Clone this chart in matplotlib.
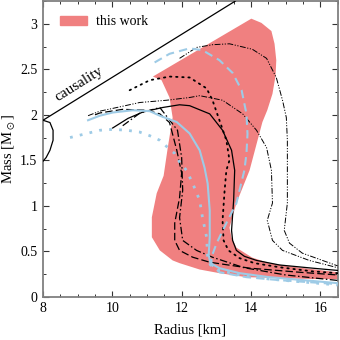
import matplotlib
matplotlib.use("Agg")
import matplotlib.pyplot as plt
from matplotlib.patches import Patch

plt.rcParams['font.family'] = 'serif'
plt.rcParams['font.serif'] = ['Liberation Serif', 'DejaVu Serif']
plt.rcParams['mathtext.fontset'] = 'stix'

# ---- data (Radius [km], Mass [Msun]) ----
band_R = [11.17, 14.01, 14.30, 14.59, 14.68, 14.73, 14.71, 14.62, 14.47, 14.33, 14.19, 13.96,
          13.58, 13.38, 13.44, 13.58, 14.04, 14.53, 15.31, 16.5,
          16.5, 15.77, 14.82, 13.87, 13.09, 12.52, 11.94, 11.74, 11.37, 11.14, 11.14, 11.28,
          11.48, 11.60, 11.74, 11.65, 11.42]
band_M = [2.42, 3.056, 3.01, 2.92, 2.78, 2.60, 2.43, 2.23, 2.05, 1.92, 1.72, 1.39,
          1.03, 0.76, 0.65, 0.54, 0.43, 0.37, 0.325, 0.27,
          0.195, 0.195, 0.206, 0.216, 0.26, 0.30, 0.37, 0.40, 0.51, 0.655, 0.874, 1.137,
          1.33, 1.64, 1.97, 2.19, 2.38]

causal_R = [8.0, 13.55]
causal_M = [1.94, 3.25]

left_R = [8.0, 8.20, 8.29, 8.29, 8.20, 8.09, 8.0]
left_M = [1.94, 1.915, 1.83, 1.72, 1.61, 1.53, 1.49]

solid_R = [10.01, 10.45, 10.88, 11.45, 11.94, 12.23, 12.81, 13.18, 13.44, 13.53, 13.50, 13.44,
           13.47, 13.58, 13.81, 14.16, 14.82, 15.77, 16.5]
solid_M = [1.855, 1.96, 2.03, 2.08, 2.11, 2.10, 2.01, 1.83, 1.61, 1.39, 1.06, 0.73,
           0.62, 0.51, 0.445, 0.40, 0.35, 0.315, 0.29]

dot_R = [10.50, 11.08, 11.65, 12.23, 12.72, 12.89, 13.09, 13.29, 13.38, 13.29, 13.24, 13.18,
         13.21, 13.35, 13.67, 14.10, 14.82, 15.77, 16.5]
dot_M = [2.27, 2.38, 2.42, 2.41, 2.29, 2.16, 1.94, 1.72, 1.50, 1.39, 1.17, 0.84,
         0.62, 0.51, 0.425, 0.37, 0.325, 0.28, 0.26]

dash_R = [9.50, 9.64, 10.30, 10.99, 11.37, 11.65, 11.86, 12.00, 11.94, 11.80, 11.80, 11.94,
          12.32, 12.81, 13.96, 15.40, 16.5]
dash_M = [2.00, 2.02, 2.06, 2.05, 2.01, 1.915, 1.61, 1.36, 1.09, 0.81, 0.62, 0.51,
          0.435, 0.38, 0.315, 0.27, 0.24]

dashdot_R = [10.30, 10.80, 11.37, 11.88, 12.00, 12.03, 11.94, 12.03, 12.43, 12.89, 13.80,
             15.00, 16.5]
dashdot_M = [1.88, 2.02, 2.08, 1.83, 1.53, 1.17, 0.87, 0.62, 0.51, 0.435, 0.32,
             0.24, 0.18]

ddd1_R = [9.30, 9.64, 10.01, 10.79, 11.57, 12.23, 12.52, 13.18, 13.76, 14.16, 14.45, 14.59,
          14.62, 14.47, 14.62, 14.91, 15.68, 16.5]
ddd1_M = [1.99, 2.04, 2.07, 2.135, 2.16, 2.19, 2.21, 2.16, 2.01, 1.83, 1.64, 1.39,
          1.03, 0.84, 0.62, 0.51, 0.40, 0.32]

ddd2_R = [11.94, 12.43, 12.89, 13.38, 14.04, 14.45, 14.73, 14.91, 15.02, 15.05, 15.05, 15.05,
          14.96, 15.11, 15.48, 16.5]
ddd2_M = [2.62, 2.74, 2.77, 2.78, 2.72, 2.62, 2.41, 2.16, 1.97, 1.72, 1.39, 1.03,
          0.73, 0.59, 0.48, 0.34]

lbdash_R = [11.22, 11.65, 12.23, 12.60, 13.09, 13.47, 13.73, 13.87, 13.90, 13.87, 13.81, 13.58,
            13.29, 13.01, 12.86, 12.86, 13.09, 13.87, 14.82, 16.5]
lbdash_M = [2.575, 2.67, 2.73, 2.71, 2.60, 2.46, 2.27, 2.01, 1.79, 1.575, 1.39, 1.03,
            0.81, 0.59, 0.435, 0.35, 0.27, 0.216, 0.183, 0.14]

lbsolid_R = [9.30, 9.64, 10.01, 10.59, 11.08, 11.37, 11.86, 12.23, 12.52, 12.66, 12.75, 12.81,
             12.81, 12.78, 12.83, 13.09, 13.67, 14.53, 16.5]
lbsolid_M = [1.94, 1.99, 2.025, 2.05, 2.04, 1.99, 1.92, 1.795, 1.61, 1.42, 1.245, 0.95,
             0.655, 0.46, 0.37, 0.315, 0.26, 0.216, 0.15]

lbdot_R = [8.78, 9.27, 9.64, 10.01, 10.42, 10.79, 11.08, 11.37, 11.60, 11.80, 11.94, 12.14,
           12.32, 12.52, 12.60, 12.72, 12.75, 12.83, 13.09, 13.67, 14.53, 16.5]
lbdot_M = [1.75, 1.795, 1.83, 1.84, 1.83, 1.81, 1.77, 1.72, 1.64, 1.575, 1.48, 1.39,
           1.245, 1.06, 0.875, 0.655, 0.435, 0.35, 0.29, 0.24, 0.195, 0.13]

xticks = [8, 10, 12, 14, 16]
yticks = [0, 0.5, 1, 1.5, 2, 2.5, 3]
ytick_labels = ['0', '0.5', '1', '1.5', '2', '2.5', '3']

RED = '#F08080'
LB = '#9ECBE6'

fig = plt.figure(figsize=(3.4, 3.4), dpi=100)
ax = fig.add_axes([0.1265, 0.127, 0.8665, 0.870])

ax.fill(band_R, band_M, color=RED, lw=0, zorder=1)

ax.plot(causal_R, causal_M, color='black', lw=0.9, zorder=3)
ax.plot(left_R, left_M, color='black', lw=0.9, zorder=3)
ax.plot(solid_R, solid_M, color='black', lw=0.9, zorder=3)
ax.plot(dot_R, dot_M, color='black', lw=1.3, ls=(0, (0.8, 2.6)), dash_capstyle='round', zorder=3)
ax.plot(dash_R, dash_M, color='black', lw=0.9, ls=(0, (6, 2.5)), zorder=3)
ax.plot(dashdot_R, dashdot_M, color='black', lw=0.9, ls=(0, (6, 2, 1.2, 2)), zorder=3)
ax.plot(ddd1_R, ddd1_M, color='black', lw=0.7, ls=(0, (6, 1.6, 1.2, 1.6, 1.2, 1.6)), zorder=3)
ax.plot(ddd2_R, ddd2_M, color='black', lw=0.7, ls=(0, (6, 1.6, 1.2, 1.6, 1.2, 1.6)), zorder=3)

ax.plot(lbdash_R, lbdash_M, color=LB, lw=1.5, ls=(0, (4, 2.5)), zorder=4)
ax.plot(lbsolid_R, lbsolid_M, color=LB, lw=1.5, zorder=4)
ax.plot(lbdot_R, lbdot_M, color=LB, lw=2.0, ls=(0, (1, 2.6)), zorder=4)

ax.text(9.05, 2.34, 'causality', rotation=32, fontsize=11, ha='center', va='center',
        rotation_mode='anchor')

ax.set_xlim(8, 16.5)
ax.set_ylim(0, 3.25)
ax.set_xticks(xticks)
ax.set_yticks(yticks)
ax.set_yticklabels(ytick_labels)
ax.set_xticks([x / 2 for x in range(16, 34)], minor=True)
ax.set_yticks([y / 4 for y in range(0, 14)], minor=True)
ax.tick_params(which='both', direction='in', top=True, right=True, labelsize=10,
               color='#333333')
ax.tick_params(which='major', length=4.5, width=0.8, pad=4)
ax.tick_params(which='minor', length=2.5, width=0.7)
for s in ax.spines.values():
    s.set_color('#808080')
    s.set_linewidth(1.3)

ax.set_xlabel('Radius [km]', fontsize=10.5, labelpad=6)
ax.set_ylabel(r'Mass [M$_\odot$]', fontsize=10.5, labelpad=2)

leg = ax.legend(handles=[Patch(color=RED, label='this work')], loc='upper left',
                bbox_to_anchor=(0.03, 0.98), frameon=False, fontsize=10,
                handlelength=1.9, handleheight=0.6, handletextpad=0.7, borderaxespad=0.2)

fig.savefig('out.png', dpi=100)
